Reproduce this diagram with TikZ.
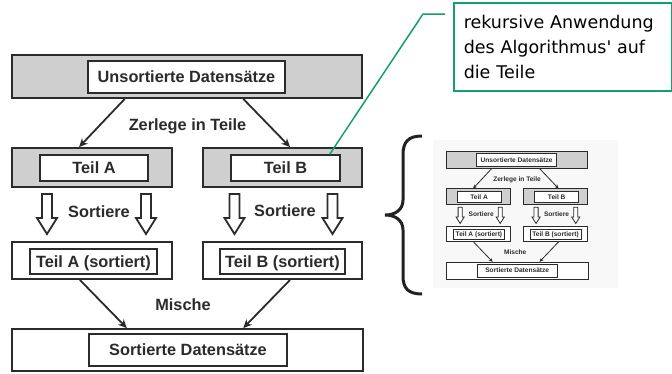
\documentclass[tikz,border=0pt]{standalone}
\usepackage{fontspec}
\setmainfont{Liberation Sans}
\newfontfamily\calloutfont[Ligatures=TeXOff]{DejaVu Sans}
\usetikzlibrary{arrows.meta,calc}

\definecolor{barfill}{HTML}{CFCFCF}
\definecolor{inkline}{HTML}{2B2B2B}
\definecolor{calloutgreen}{HTML}{14A06E}
\definecolor{scanback}{HTML}{F8F8F8}

\tikzset{
  schemelw/.store in=\schemelw, schemelw=1.8pt,
  boxlbl/.style={font=\bfseries\fontsize{16.3}{19}\selectfont, text=inkline},
  barbox/.style={draw=inkline, line width=\schemelw, fill=barfill, inner sep=0pt},
  plainbox/.style={draw=inkline, line width=\schemelw, fill=white, inner sep=0pt},
  innerbox/.style={draw=inkline, line width=0.8*\schemelw, fill=white, inner sep=0pt,
    text height=11.7pt, text depth=0pt, boxlbl},
  conn/.style={draw=inkline, line width=\schemelw,
    -{Stealth[length=0pt 4.8, width=0pt 4.4]}},
  hollow/.style={draw=inkline, line width=\schemelw, fill=white, line join=miter},
  callout/.style={draw=calloutgreen, line width=1.5pt, align=left,
    font=\calloutfont\fontsize{17.5}{25}\selectfont},
  callline/.style={draw=calloutgreen, line width=1.5pt},
  pics/scheme/.style={code={
    % unsorted input
    \node[barbox, minimum width=350, minimum height=43] (-top) at (187,76.5) {};
    \node[innerbox, minimum width=197, minimum height=32] (-topin) at (186.5,77) {Unsortierte Datensätze};
    % the two parts
    \node[barbox, minimum width=160, minimum height=39] (-a) at (92,167.5) {};
    \node[innerbox, minimum width=108, minimum height=26] (-ain) at (94,168) {Teil A};
    \node[barbox, minimum width=159, minimum height=39] (-b) at (282.5,167.5) {};
    \node[innerbox, minimum width=109, minimum height=26] (-bin) at (285.5,168) {Teil B};
    % sorted parts
    \node[plainbox, minimum width=160, minimum height=37] (-as) at (92,260.5) {};
    \node[innerbox, minimum width=127, minimum height=25] (-asin) at (93.5,261.5) {Teil A (sortiert)};
    \node[plainbox, minimum width=159, minimum height=37] (-bs) at (282.5,260.5) {};
    \node[innerbox, minimum width=125, minimum height=25] (-bsin) at (282.5,261.5) {Teil B (sortiert)};
    % sorted output
    \node[plainbox, minimum width=351, minimum height=42] (-bot) at (187.5,350) {};
    \node[innerbox, minimum width=198, minimum height=32] (-botin) at (188,350) {Sortierte Datensätze};
    % step labels
    \node[boxlbl, anchor=base] (-split) at (187.5,130.5) {Zerlege in Teile};
    \node[boxlbl, anchor=base] (-sorta) at (99,217) {Sortiere};
    \node[boxlbl, anchor=base] (-sortb) at (285,216.5) {Sortiere};
    \node[boxlbl, anchor=base] (-merge) at (183,310.5) {Mische};
    % splitting
    \draw[conn] ($(-top.south west)!0.323!(-top.south east)$) -- ($(-a.north west)!0.42!(-a.north east)$);
    \draw[conn] ($(-top.south west)!0.66!(-top.south east)$) -- ($(-b.north west)!0.547!(-b.north east)$);
    % merging
    \draw[conn] ($(-as.south west)!0.425!(-as.south east)$) -- ($(-bot.north west)!0.328!(-bot.north east)$);
    \draw[conn] ($(-bs.south west)!0.547!(-bs.south east)$) -- ($(-bot.north west)!0.658!(-bot.north east)$);
    % hollow sorting arrows
    \foreach \ax in {47,146,234.5,332.5}{
      \draw[hollow] (\ax-5,194) -- (\ax+5,194) -- (\ax+5,218) -- (\ax+10,218)
        -- (\ax,234) -- (\ax-10,218) -- (\ax-5,218) -- cycle;
    }
  }}
}

\begin{document}
\begin{tikzpicture}[x=1pt, y=-1pt]
  \useasboundingbox[fill=white] (0,0) rectangle (672,373);

  % full scheme
  \pic (big) at (0,0) {scheme};

  % recursive application: the same scheme in miniature
  \fill[scanback] (433,140) rectangle (618,288);
  \pic[schemelw=0.8pt, scale=0.405, transform shape] (small) at (441.1,128.7) {scheme};

  % curly brace
  \draw[line width=3pt, inkline!80!black]
    (422,136) .. controls (408,136) and (403,142) .. (403,155)
    -- (403,200) .. controls (403,210) and (395,215) .. (385,215)
    .. controls (395,215) and (403,220) .. (403,230)
    -- (403,276) .. controls (403,288) and (408,294) .. (422,294);

  % callout
  \node[callout, anchor=north west, minimum width=217.5, minimum height=88,
        text width=197.5, inner xsep=10, inner ysep=0] (note) at (453,2)
        {rekursive Anwendung\\des Algorithmus' auf\\die Teile};
  \coordinate (knee) at (423,14);
  \coordinate (lead) at (445,14);
  \draw[callline] ($(big-bin.north west)!0.9!(big-bin.north east)$) -- (knee) -- (lead);
\end{tikzpicture}
\end{document}
